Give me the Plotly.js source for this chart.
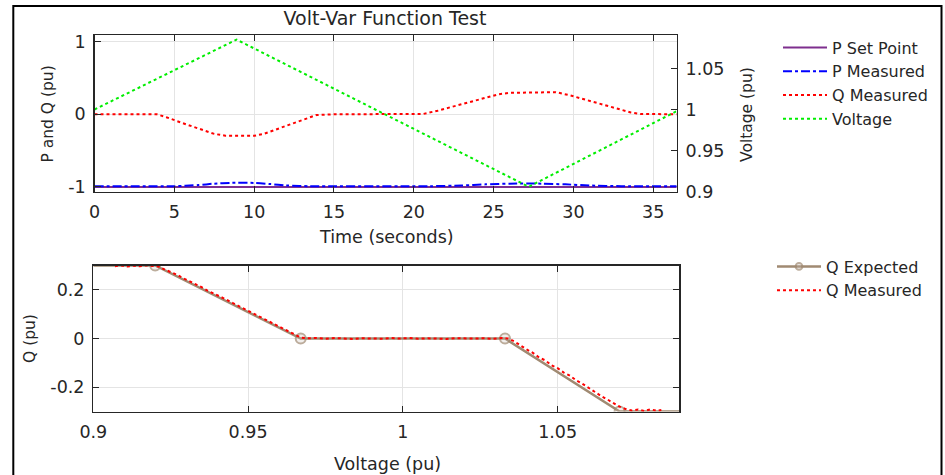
<!DOCTYPE html>
<html>
<head>
<meta charset="utf-8">
<script src="https://cdn.plot.ly/plotly-3.0.1.min.js"></script>
<style>html,body{margin:0;padding:0;background:#fff;}#chart{width:945px;height:475px;}</style>
</head>
<body>
<div id="chart"></div>
<script>
// ---------- Top panel: time series ----------
const pSetTime = [0, 36.47];
const pSetValues = [-1, -1];

const pMeasTime = [0, 5, 6.5, 7.5, 8.5, 10, 11, 12, 13.5, 21, 23, 24.5, 26, 28, 29.5, 31, 33, 36.47];
const pMeasValues = [-0.99, -0.99, -0.975, -0.955, -0.945, -0.945, -0.96, -0.98, -0.99, -0.99, -0.98, -0.965, -0.955, -0.955, -0.965, -0.98, -0.99, -0.99];

const qMeasTime = [0, 1, 2, 3, 3.9, 4.5, 5.5, 6.5, 7.5, 8.2, 9.2, 10, 10.6, 11.5, 12.5, 13.3, 13.9, 15, 16, 17, 18, 19, 20, 20.6, 21.5, 22.5, 23.5, 24.5, 25.3, 26, 27, 28, 28.9, 29.8, 30.8, 31.8, 32.8, 33.6, 34.2, 35, 36, 36.47];
const qMeasValues = [0, 0.003, -0.002, 0.002, 0, -0.04, -0.12, -0.2, -0.27, -0.295, -0.3, -0.296, -0.27, -0.2, -0.12, -0.05, -0.01, 0, 0.002, -0.001, 0.001, 0, 0.002, 0.005, 0.05, 0.11, 0.17, 0.23, 0.275, 0.295, 0.3, 0.298, 0.305, 0.26, 0.2, 0.14, 0.07, 0.025, 0.005, 0, 0.002, 0];

const voltTime = [0, 8.9, 27.2, 36.47];
const voltValues = [1.0, 1.085, 0.906, 0.998];

// ---------- Bottom panel: volt-var curve ----------
const qExpVolt = [0.9, 0.92, 0.967, 1.033, 1.07, 1.0893];
const qExpQ = [0.3, 0.3, 0, 0, -0.3, -0.3];

const qCurveVolt = [0.907, 0.909, 0.911, 0.913, 0.915, 0.917, 0.919, 0.921, 0.923, 0.925, 0.927, 0.929, 0.931, 0.933, 0.935, 0.937, 0.939, 0.941, 0.943, 0.945, 0.947, 0.949, 0.951, 0.953, 0.955, 0.957, 0.959, 0.961, 0.963, 0.965, 0.967, 0.969, 0.972, 0.975, 0.978, 0.981, 0.984, 0.987, 0.990, 0.993, 0.996, 0.999, 1.002, 1.005, 1.008, 1.011, 1.014, 1.017, 1.020, 1.023, 1.026, 1.029, 1.032, 1.034, 1.036, 1.038, 1.040, 1.042, 1.044, 1.046, 1.048, 1.050, 1.052, 1.054, 1.056, 1.058, 1.060, 1.062, 1.064, 1.066, 1.068, 1.070, 1.072, 1.074, 1.076, 1.078, 1.080, 1.082, 1.0835];
const qCurveQ = [0.297, 0.300, 0.296, 0.299, 0.297, 0.301, 0.298, 0.296, 0.284, 0.274, 0.262, 0.248, 0.236, 0.222, 0.211, 0.196, 0.185, 0.171, 0.160, 0.146, 0.133, 0.121, 0.108, 0.096, 0.082, 0.070, 0.056, 0.044, 0.030, 0.016, 0.004, 0.001, 0.002, -0.001, 0.002, 0.000, -0.002, 0.001, 0.000, -0.001, 0.002, 0.000, 0.002, -0.001, 0.001, 0.000, -0.002, 0.001, 0.002, 0.000, 0.001, -0.001, 0.002, 0.000, -0.012, -0.030, -0.045, -0.059, -0.078, -0.090, -0.110, -0.122, -0.140, -0.153, -0.172, -0.186, -0.203, -0.217, -0.236, -0.250, -0.266, -0.280, -0.290, -0.296, -0.292, -0.298, -0.291, -0.297, -0.294];

const xTicksTop = [0, 5, 10, 15, 20, 25, 30, 35];
const yTicksLeft = [-1, 0, 1];
const yTickLeftText = ['-1', '0', '1'];
const yTicksRight = [0.9, 0.95, 1, 1.05];
const yTickRightText = ['0.9', '0.95', '1', '1.05'];
const xTicksBottom = [0.9, 0.95, 1, 1.05];
const xTickBottomText = ['0.9', '0.95', '1', '1.05'];
const yTicksBottom = [-0.2, 0, 0.2];
const yTickBottomText = ['-0.2', '0', '0.2'];

const W = 945, H = 475;
const px = v => v / W;
const py = v => 1 - v / H;

const FONT = 'DejaVu Sans';
const TXT = '#262626';
const GRID = '#e4e4e4';

const traces = [
  {x: pSetTime, y: pSetValues, name: 'P Set Point', mode: 'lines', line: {color: '#7E2F8E', width: 2}, xaxis: 'x', yaxis: 'y', legend: 'legend'},
  {x: pMeasTime, y: pMeasValues, name: 'P Measured', mode: 'lines', line: {color: '#0000FF', width: 2, dash: 'dashdot', shape: 'spline', smoothing: 0.6}, xaxis: 'x', yaxis: 'y', legend: 'legend'},
  {x: qMeasTime, y: qMeasValues, name: 'Q Measured', mode: 'lines', line: {color: '#FF0000', width: 2, dash: 'dot'}, xaxis: 'x', yaxis: 'y', legend: 'legend'},
  {x: voltTime, y: voltValues, name: 'Voltage', mode: 'lines', line: {color: '#00EE00', width: 2, dash: 'dot'}, xaxis: 'x', yaxis: 'y2', legend: 'legend'},
  {x: qExpVolt, y: qExpQ, name: 'Q Expected', mode: 'lines+markers', line: {color: '#A08A72', width: 2.5},
   marker: {symbol: 'circle', size: [0, 10, 10, 10, 10, 0], color: 'rgba(200,190,180,0.35)', line: {color: '#A08A72', width: 2}},
   xaxis: 'x2', yaxis: 'y3', legend: 'legend2'},
  {x: qCurveVolt, y: qCurveQ, name: 'Q Measured', mode: 'lines', line: {color: '#FF0000', width: 2, dash: 'dot'}, xaxis: 'x2', yaxis: 'y3', legend: 'legend2'}
];

const axBase = {
  ticks: 'inside', ticklen: 6, tickwidth: 1, tickcolor: TXT,
  showline: true, linecolor: TXT, linewidth: 1.3,
  showgrid: true, gridcolor: GRID, gridwidth: 1, zeroline: false,
  tickfont: {family: FONT, size: 17.5, color: TXT},
  fixedrange: true
};

const layout = {
  width: W, height: H,
  margin: {l: 0, r: 0, t: 0, b: 0, pad: 0},
  paper_bgcolor: '#ffffff', plot_bgcolor: '#ffffff',
  font: {family: FONT, size: 17.5, color: TXT},
  title: {text: 'Volt-Var Function Test', x: px(385), xanchor: 'center', y: py(18.5), yanchor: 'middle',
          xref: 'paper', yref: 'container', font: {family: FONT, size: 19, color: TXT}},
  xaxis: Object.assign({}, axBase, {domain: [px(94.5), px(676.7)], range: [0, 36.47], anchor: 'y',
          tickmode: 'array', tickvals: xTicksTop, mirror: 'ticks', ticklabelstandoff: 4}),
  yaxis: Object.assign({}, axBase, {domain: [py(191.7), py(35)], range: [-1.066, 1.092], anchor: 'x',
          tickmode: 'array', tickvals: yTicksLeft, ticktext: yTickLeftText, mirror: false, ticklabelstandoff: 4}),
  yaxis2: Object.assign({}, axBase, {overlaying: 'y', side: 'right', anchor: 'x', range: [0.9, 1.0906],
          tickmode: 'array', tickvals: yTicksRight, ticktext: yTickRightText, showgrid: false, ticklabelstandoff: 4}),
  xaxis2: Object.assign({}, axBase, {domain: [px(93.3), px(679.3)], range: [0.9, 1.0893], anchor: 'y3',
          tickmode: 'array', tickvals: xTicksBottom, ticktext: xTickBottomText, mirror: 'ticks', ticklabelstandoff: 4}),
  yaxis3: Object.assign({}, axBase, {domain: [py(411.5), py(265.5)], range: [-0.3, 0.3], anchor: 'x2',
          tickmode: 'array', tickvals: yTicksBottom, ticktext: yTickBottomText, mirror: 'ticks', ticklabelstandoff: 4}),
  legend: {x: px(778), xanchor: 'left', y: py(30.5), yanchor: 'top', bgcolor: 'rgba(0,0,0,0)', borderwidth: 0,
           font: {family: FONT, size: 16, color: TXT}, itemwidth: 44, tracegroupgap: 0, itemclick: false, itemdoubleclick: false},
  legend2: {x: px(772), xanchor: 'left', y: py(249.5), yanchor: 'top', bgcolor: 'rgba(0,0,0,0)', borderwidth: 0,
           font: {family: FONT, size: 16, color: TXT}, itemwidth: 44, tracegroupgap: 0, itemclick: false, itemdoubleclick: false},
  showlegend: true,
  annotations: [
    {text: 'Time (seconds)', xref: 'paper', yref: 'paper', x: px(386), y: py(237), xanchor: 'center', yanchor: 'middle', showarrow: false, font: {family: FONT, size: 17.5, color: TXT}},
    {text: 'P and Q (pu)', xref: 'paper', yref: 'paper', x: px(47.5), y: py(114), xanchor: 'center', yanchor: 'middle', textangle: -90, showarrow: false, font: {family: FONT, size: 15.5, color: TXT}},
    {text: 'Voltage (pu)', xref: 'paper', yref: 'paper', x: px(747), y: py(115), xanchor: 'center', yanchor: 'middle', textangle: -90, showarrow: false, font: {family: FONT, size: 15.5, color: TXT}},
    {text: 'Q (pu)', xref: 'paper', yref: 'paper', x: px(30), y: py(339), xanchor: 'center', yanchor: 'middle', textangle: -90, showarrow: false, font: {family: FONT, size: 15.5, color: TXT}},
    {text: 'Voltage (pu)', xref: 'paper', yref: 'paper', x: px(387.5), y: py(464), xanchor: 'center', yanchor: 'middle', showarrow: false, font: {family: FONT, size: 17.5, color: TXT}}
  ],
  shapes: [
    {type: 'rect', xref: 'paper', yref: 'paper', x0: px(13.3), x1: px(941.5), y0: py(490), y1: py(6), line: {color: '#000000', width: 2}, fillcolor: 'rgba(0,0,0,0)', layer: 'above'}
  ]
};

Plotly.newPlot('chart', traces, layout, {displayModeBar: false, staticPlot: true});
</script>
</body>
</html>
